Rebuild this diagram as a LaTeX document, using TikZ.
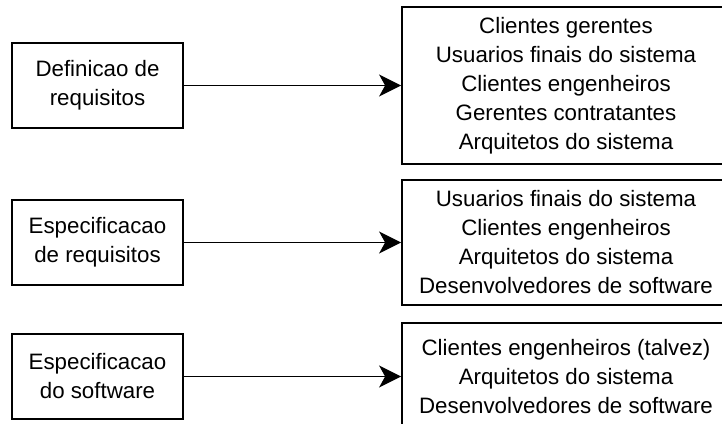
\documentclass[tikz,border=0pt]{standalone}
\usepackage{fontspec}
\setmainfont{Liberation Sans}
\usetikzlibrary{arrows.meta}
\begin{document}
\begin{tikzpicture}[x=1pt,y=-1pt,
  every node/.style={font=\fontsize{22.3}{29}\selectfont, align=center, inner sep=0pt},
  stagebox/.style={draw, line width=1.8pt, minimum width=171pt, minimum height=85pt},
  rolebox/.style={draw, line width=1.8pt, minimum width=328pt},
  link/.style={line width=1.8pt, -{Stealth[length=22pt,width=22pt,inset=6pt]}}]
\clip (0,0) rectangle (722,423);
\fill[white] (0,0) rectangle (722,423);
\node[stagebox] (s1) at (97.5,85.5) {Definicao de\\requisitos};
\node[stagebox] (s2) at (97.5,242.5) {Especificacao\\de requisitos};
\node[stagebox] (s3) at (97.5,376.5) {Especificacao\\do software};
\node[rolebox, minimum height=157pt] (r1) at (566,85.5) {Clientes gerentes\\Usuarios finais do sistema\\Clientes engenheiros\\Gerentes contratantes\\Arquitetos do sistema};
\node[rolebox, minimum height=125pt] (r2) at (566,242.5) {Usuarios finais do sistema\\Clientes engenheiros\\Arquitetos do sistema\\Desenvolvedores de software};
\node[rolebox, minimum height=108pt] (r3) at (566,377) {Clientes engenheiros (talvez)\\Arquitetos do sistema\\Desenvolvedores de software};
\draw[link] (s1) -- (r1.west|-s1);
\draw[link] (s2) -- (r2.west|-s2);
\draw[link] (s3) -- (r3.west|-s3);
\end{tikzpicture}
\end{document}
